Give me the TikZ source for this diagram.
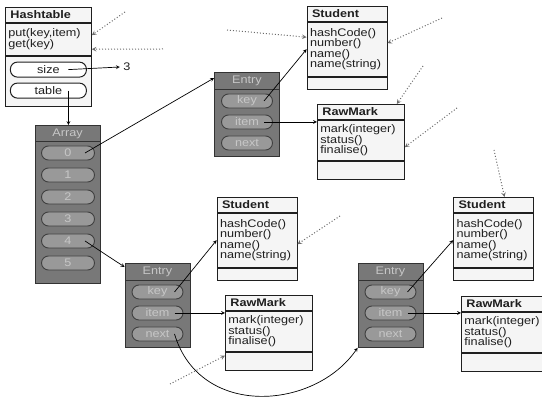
\documentclass[tikz,border=0pt]{standalone}
\usepackage{fontspec}
\setmainfont{Liberation Sans}[FakeStretch=1.15]
\usetikzlibrary{positioning}

\definecolor{boxgray}{gray}{0.47}
\definecolor{pillgray}{gray}{0.60}
\definecolor{faintgray}{gray}{0.78}
\definecolor{inkgray}{gray}{0.12}
\definecolor{hintgray}{gray}{0.42}

\begin{document}
\begin{tikzpicture}[
	x=1pt, y=-1pt,
	>=stealth,
	line width=0.7pt,
	every node/.style={font=\fontsize{11}{10.5}\selectfont, text=inkgray},
	classpart/.style={
		rectangle,
		draw=inkgray,
		line width=0.8pt,
		fill=gray!8,
		inner sep=0pt,
		align=left
	},
	classtitle/.style={
		classpart,
		font=\fontsize{11}{10.5}\selectfont\bfseries,
		minimum height=15pt,
		inner xsep=5pt
	},
	classrows/.style={
		classpart,
		inner xsep=3pt
	},
	fieldpill/.style={
		rectangle,
		rounded corners=7pt,
		draw=inkgray,
		line width=1pt,
		fill=white,
		minimum width=76pt,
		minimum height=15pt,
		inner sep=0pt
	},
	darkbox/.style={
		rectangle,
		draw=black!80,
		line width=0.8pt,
		fill=boxgray,
		inner sep=0pt
	},
	darktitle/.style={
		darkbox,
		text=faintgray
	},
	slotpill/.style={
		rectangle,
		rounded corners=7pt,
		draw=black!75,
		line width=0.9pt,
		fill=pillgray,
		text=faintgray,
		minimum width=53pt,
		minimum height=14pt,
		inner sep=0pt
	},
	hint/.style={
		->,
		dotted,
		draw=hintgray,
		line width=1pt
	}
]
\useasboundingbox (0,0) rectangle (542,398);

% hashtable
\node[classtitle, text width=76pt, anchor=north west] (hasht) at (5,7) {Hashtable};
\node[classrows, text width=80pt, minimum height=32pt, below=0pt of hasht] (hashm) {put(key,item)\\get(key)};
\node[classpart, minimum width=86pt, minimum height=50pt, below=0pt of hashm] (hashf) {};
\node[fieldpill] (size) at ([yshift=-14pt]hashf.north) {size};
\node[fieldpill] (table) at ([yshift=-35pt]hashf.north) {table};
\node (three) at (127,67) {3};

% array
\node[darkbox, minimum width=65pt, minimum height=158pt, anchor=north] (array) at (67.5,125) {};
\node[darktitle, minimum width=65pt, minimum height=16pt, anchor=north] (arrayt) at (array.north) {Array};
\foreach \k in {0, ..., 5}
	\node[slotpill] (a\k) at (68,{153+22*\k}) {\k};

% entries
\foreach \i/\x/\y in {1/247/72, 2/157.5/263, 3/390.5/263} {
	\node[darkbox, minimum width=65pt, minimum height=84pt, anchor=north] (entry\i) at (\x,\y) {};
	\node[darktitle, minimum width=65pt, minimum height=17pt, anchor=north] (entryt\i) at (entry\i.north) {Entry};
	\node[slotpill, minimum width=51pt] (key\i) at (\x,{\y+29}) {key};
	\node[slotpill, minimum width=51pt] (item\i) at (\x,{\y+50}) {item};
	\node[slotpill, minimum width=51pt] (next\i) at (\x,{\y+71}) {next};
}

% students
\foreach \i/\x/\y in {1/347/6, 2/257/197, 3/493.5/197} {
	\node[classtitle, text width=70pt, anchor=north] (stut\i) at (\x,\y) {Student};
	\node[classrows, text width=74pt, minimum height=54pt, below=0pt of stut\i] (stum\i) {hashCode()\\number()\\name()\\name(string)};
	\node[classpart, minimum width=80pt, minimum height=12pt, below=0pt of stum\i] (stuf\i) {};
}

% raw marks
\foreach \i/\x/\y in {1/317/104, 2/225/295, 3/461/296} {
	\node[classtitle, text width=77pt, anchor=north west] (rawt\i) at (\x,\y) {RawMark};
	\node[classrows, text width=81pt, minimum height=40pt, below=0pt of rawt\i] (rawm\i) {mark(integer)\\status()\\finalise()};
	\node[classpart, minimum width=87pt, minimum height=18pt, below=0pt of rawm\i] (rawf\i) {};
}

% pointers
\coordinate (sizep) at ([xshift=20pt]size.center);
\coordinate (tablep) at ([xshift=20pt]table.center);
\draw[->] (sizep) -- (three.west);
\draw[->] (tablep) -- (tablep |- array.north);

\coordinate (slotp0) at ([xshift=17pt]a0.center);
\coordinate (slotp4) at ([xshift=17pt]a4.center);
\draw[->] (slotp0) -- ([yshift=-6pt]entry1.north west);
\draw[->] (slotp4) -- ([yshift=-4pt]entry2.north west);

\foreach \i in {1, 2, 3} {
	\coordinate (keyp\i) at ([xshift=17pt]key\i.center);
	\coordinate (itemp\i) at ([xshift=17pt]item\i.center);
	\draw[->] (keyp\i) -- (stum\i.west);
	\draw[->] (itemp\i) -- (itemp\i -| rawm\i.west);
}

\coordinate (nextp2) at ([xshift=17pt]next2.center);
\draw[->] (nextp2) .. controls (200,419) and (315,410) .. (entry3.south west);

% other references
\coordinate (h1) at (125,12);
\coordinate (h2) at (163,49);
\coordinate (h3) at (227,30);
\coordinate (h4) at (442,18);
\coordinate (h5) at (423,66);
\coordinate (h6) at (457,108);
\coordinate (h7) at (340,216);
\coordinate (h8) at (170,384);
\coordinate (h9) at (494,150);

\draw[hint] (h1) -- ([yshift=4pt]hashm.east);
\draw[hint] (h2) -- ([yshift=-10pt]hashm.east);
\draw[hint] (h3) -- ([yshift=12pt]stum1.west);
\draw[hint] (h4) -- ([yshift=6pt]stum1.east);
\draw[hint] (h5) -- ([xshift=-8pt]rawt1.north east);
\draw[hint] (h6) -- ([yshift=-7pt]rawm1.east);
\draw[hint] (h7) -- ([yshift=-4pt]stum2.east);
\draw[hint] (h8) -- ([yshift=-4pt]rawf2.north west);
\draw[hint] (h9) -- ([xshift=11pt]stut3.north);

\end{tikzpicture}
\end{document}
